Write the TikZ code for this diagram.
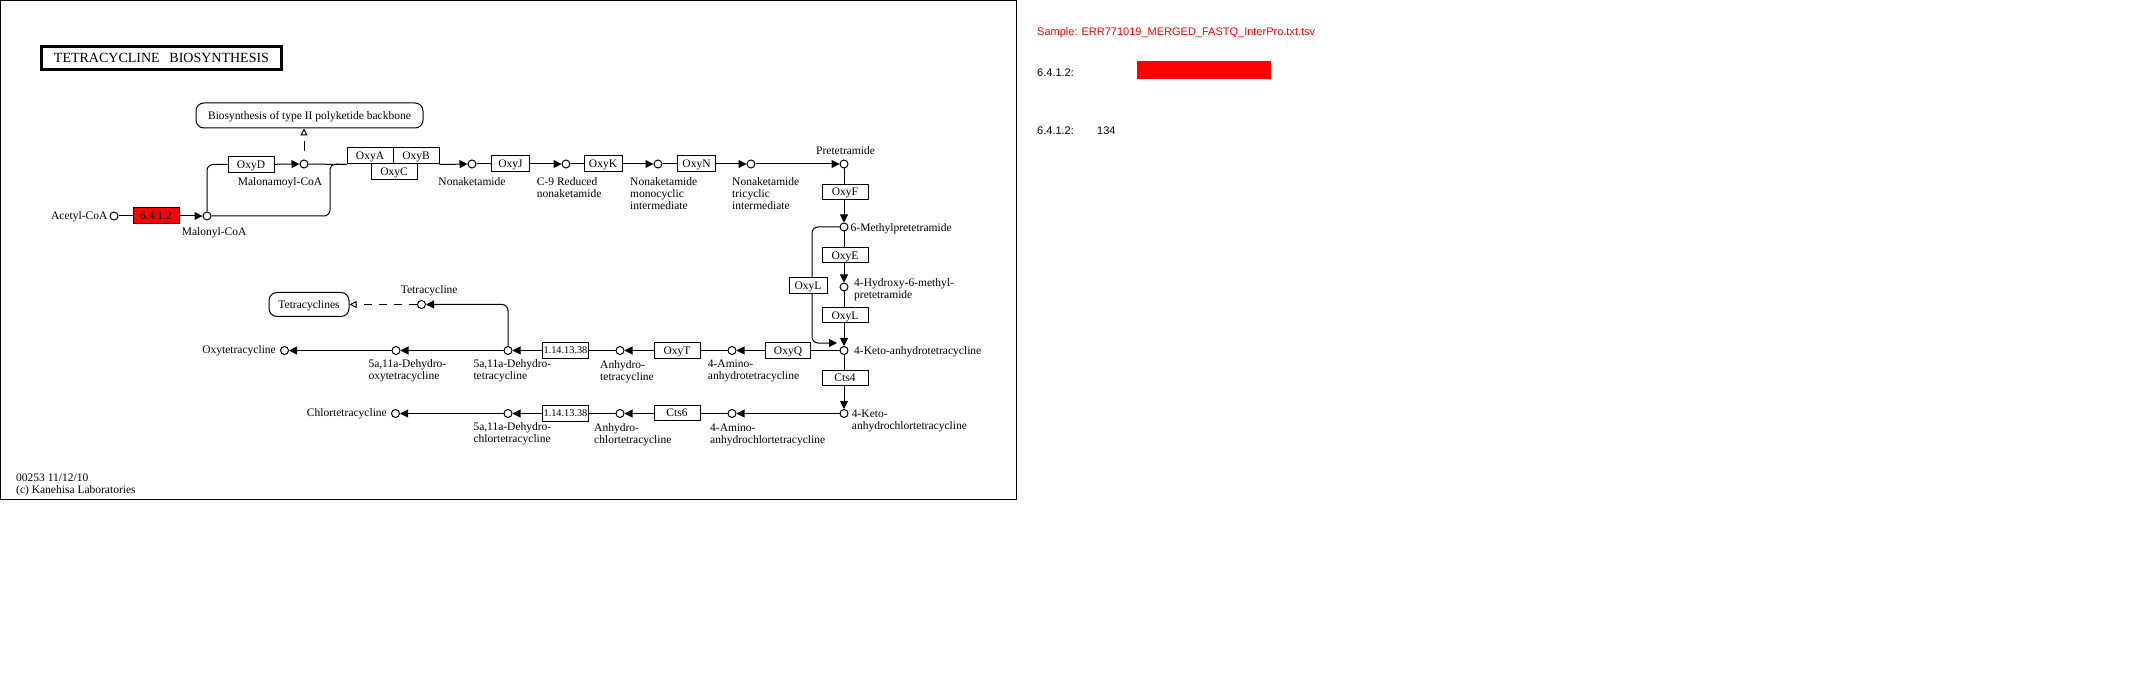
\documentclass[tikz,border=0pt]{standalone}
\usepackage{fontspec}
\setmainfont{Liberation Serif}
\newfontfamily\sidefont{Liberation Sans}
\usetikzlibrary{arrows.meta, positioning, backgrounds}

\begin{document}
\begin{tikzpicture}[x=1pt, y=-1pt,
  cpd/.style={circle, draw, fill=white, line width=1pt, minimum size=8pt, inner sep=0pt},
  enz/.style={rectangle, draw, fill=white, line width=1pt, minimum width=46pt,
              minimum height=16pt, inner sep=0pt, text depth=0pt,
              font=\fontsize{11.5}{12}\selectfont},
  map/.style={rectangle, rounded corners=8pt, draw, fill=white, line width=1pt,
              inner sep=0pt, text depth=0pt, font=\fontsize{11.5}{12}\selectfont},
  lbl/.style={inner sep=0pt, align=left, font=\fontsize{11.5}{12}\selectfont},
  side/.style={inner sep=0pt, font=\sidefont\fontsize{11}{13}\selectfont},
  arr/.style={-{Triangle[length=8pt, width=8pt]}, line width=1pt},
  link/.style={line width=1pt},
  rel/.style={-{Triangle[open, length=7pt, width=7pt]}, line width=1pt,
              dash pattern=on 8pt off 7pt}
]
\useasboundingbox (0,0) rectangle (2151,700);
\draw[line width=1pt] (0.5,0.5) rectangle (1016,499);
\node[draw, line width=2.5pt, minimum width=240pt, minimum height=23pt, inner sep=0pt,
      text depth=0pt, font=\fontsize{14}{16}\selectfont] (title) at (161.5,58)
  {TETRACYCLINE\hspace{9.7pt}BIOSYNTHESIS};

% compounds
\node[cpd] (acetyl)  at (114,216) {};
\node[cpd] (malonyl) at (207,216) {};
\node[cpd] (malonam) at (304,164) {};
\node[cpd] (nonak)   at (472,164) {};
\node[cpd] (redNk)   at (566,164) {};
\node[cpd] (monoNk)  at (658,164) {};
\node[cpd] (triNk)   at (751,164) {};
\node[cpd] (pretet)  at (844,164) {};
\node[cpd] (methyl)  at (844,227) {};
\node[cpd] (hydroxy) at (844,287) {};
\node[cpd] (keto)    at (844,350.5) {};
\node[cpd] (ketoCl)  at (844,413.5) {};
\node[cpd] (amino)   at (732,350.5) {};
\node[cpd] (anhydro) at (620,350.5) {};
\node[cpd] (dehTc)   at (508,350.5) {};
\node[cpd] (dehOtc)  at (396,350.5) {};
\node[cpd] (oxytc)   at (284.5,350.5) {};
\node[cpd] (tetcyc)  at (421.5,304.5) {};
\node[cpd] (aminoCl) at (732,413.5) {};
\node[cpd] (anhydCl) at (620,413.5) {};
\node[cpd] (dehCtc)  at (508,413.5) {};
\node[cpd] (chlortc) at (395.5,413.5) {};
\coordinate (join)   at (330,164);
\coordinate (ketoIn) at (837,343);

% enzymes
\node[enz, fill=red] (ec6412) at (156,216) {6.4.1.2};
\node[enz] (oxyD) at (251,164.5) {OxyD};
\node[enz] (oxyA) at (370,156) {OxyA};
\node[enz] (oxyB) at (416,156) {OxyB};
\node[enz] (oxyC) at (394,172) {OxyC};
\node[enz, minimum width=38pt] (oxyJ) at (510.5,164) {OxyJ};
\node[enz, minimum width=38pt] (oxyK) at (603,164) {OxyK};
\node[enz, minimum width=38pt] (oxyN) at (696.5,164) {OxyN};
\node[enz, minimum height=15pt] (oxyF) at (845,192) {OxyF};
\node[enz, minimum height=15pt] (oxyE) at (845,255.5) {OxyE};
\node[enz, minimum height=15pt] (oxyL) at (845,315.5) {OxyL};
\node[enz, minimum width=38pt] (oxyLb) at (808,286) {OxyL};
\node[enz, minimum height=15pt] (cts4) at (845,378) {Cts4};
\node[enz, minimum width=45pt] (oxyQ) at (788,350.5) {OxyQ};
\node[enz] (oxyT) at (677,350.5) {OxyT};
\node[enz, font=\fontsize{10.3}{12}\selectfont] (ecA) at (565.5,350.5) {1.14.13.38};
\node[enz, minimum height=15pt] (cts6) at (677,412.5) {Cts6};
\node[enz, font=\fontsize{10.3}{12}\selectfont] (ecB) at (565.5,413.5) {1.14.13.38};

% maps
\node[map, minimum width=227pt, minimum height=25pt] (pks) at (309.5,115.5)
  {Biosynthesis of type II polyketide backbone};
\node[map, minimum width=80pt, minimum height=24pt] (tetMap) at (309,304.5) {Tetracyclines};

\begin{scope}[on background layer]
\draw[arr] (acetyl) -- (malonyl);
\draw[link, rounded corners=6pt] (malonyl) |- (oxyD);
\draw[arr] (oxyD) -- (malonam);
\draw[rel, dash pattern=on 10pt off 8pt, dash phase=10pt] (malonam) -- (malonam |- pks.south);
\draw[link] (malonam) -- (oxyA.south west);
\draw[link, rounded corners=6pt] (malonyl) -| (join) -- (oxyA.south west);
\draw[arr] (oxyB.south east) -- (nonak);
\draw[arr] (nonak) -- (redNk);
\draw[arr] (redNk) -- (monoNk);
\draw[arr] (monoNk) -- (triNk);
\draw[arr] (triNk) -- (pretet);
\draw[arr] (pretet) -- (methyl);
\draw[arr] (methyl) -- (hydroxy);
\draw[arr] (hydroxy) -- (keto);
\draw[arr, rounded corners=6pt] (methyl) -| (812,343) -- (ketoIn);
\draw[arr] (keto) -- (ketoCl);
\draw[arr] (keto) -- (amino);
\draw[arr] (amino) -- (anhydro);
\draw[arr] (anhydro) -- (dehTc);
\draw[arr] (dehTc) -- (dehOtc);
\draw[arr] (dehOtc) -- (oxytc);
\draw[arr, rounded corners=6pt] (dehTc) |- (tetcyc);
\draw[rel] (tetcyc) -- (tetMap);
\draw[arr] (ketoCl) -- (aminoCl);
\draw[arr] (aminoCl) -- (anhydCl);
\draw[arr] (anhydCl) -- (dehCtc);
\draw[arr] (dehCtc) -- (chlortc);
\end{scope}

% labels
\node[lbl, anchor=base east] (lAcetyl) at (107.5,220) {Acetyl-CoA};
\node[lbl, anchor=north west] (lMalonyl) at (181.7,227) {Malonyl-CoA};
\node[lbl, anchor=north west] (lMalonam) at (237.7,177.5) {Malonamoyl-CoA};
\node[lbl, anchor=north] (lNonak) at (472,177.5) {Nonaketamide};
\node[lbl, anchor=north west] (lRedNk) at (536.7,177.5) {C-9 Reduced\\nonaketamide};
\node[lbl, anchor=north west] (lMonoNk) at (630,177.5) {Nonaketamide\\monocyclic\\intermediate};
\node[lbl, anchor=north west] (lTriNk) at (732,177.5) {Nonaketamide\\tricyclic\\intermediate};
\node[lbl, anchor=north west] (lPretet) at (816,146.7) {Pretetramide};
\node[lbl, anchor=north west] (lMethyl) at (850.5,223) {6-Methylpretetramide};
\node[lbl, anchor=north west] (lHydroxy) at (854,278.5) {4-Hydroxy-6-methyl-\\pretetramide};
\node[lbl, anchor=north west] (lKeto) at (854,346.5) {4-Keto-anhydrotetracycline};
\node[lbl, anchor=north west] (lKetoCl) at (851.7,409.3) {4-Keto-\\anhydrochlortetracycline};
\node[lbl, anchor=north west] (lAmino) at (707.7,360) {4-Amino-\\anhydrotetracycline};
\node[lbl, anchor=north west] (lAnhydro) at (600,360) {Anhydro-\\tetracycline};
\node[lbl, anchor=north west] (lDehTc) at (473.3,359.3) {5a,11a-Dehydro-\\tetracycline};
\node[lbl, anchor=north west] (lDehOtc) at (368.3,359.3) {5a,11a-Dehydro-\\oxytetracycline};
\node[lbl, anchor=east] (lOxytc) at (276,351) {Oxytetracycline};
\node[lbl, anchor=north west] (lTetcyc) at (400.7,285) {Tetracycline};
\node[lbl, anchor=north west] (lAminoCl) at (710,423.3) {4-Amino-\\anhydrochlortetracycline};
\node[lbl, anchor=north west] (lAnhydCl) at (594,423.3) {Anhydro-\\chlortetracycline};
\node[lbl, anchor=north west] (lDehCtc) at (473.3,422.3) {5a,11a-Dehydro-\\chlortetracycline};
\node[lbl, anchor=east] (lChlortc) at (387,414) {Chlortetracycline};
\node[lbl, anchor=north west] (footer) at (16,473.3) {00253 11/12/10\\(c) Kanehisa Laboratories};

% sample panel
\node[side, text=red, anchor=base west] (sample) at (1037,35.5)
  {Sample: ERR771019\_MERGED\_FASTQ\_InterPro.txt.tsv};
\node[side, anchor=base west] (ecKey) at (1037,77) {6.4.1.2:};
\node[fill=red, minimum width=134pt, minimum height=18pt, inner sep=0pt, anchor=north west]
  (bar) at (1136.7,61) {};
\node[side, anchor=base west] (ecKeyB) at (1037,135) {6.4.1.2:};
\node[side, anchor=base west] (count) at (1097,135) {134};
\end{tikzpicture}
\end{document}
